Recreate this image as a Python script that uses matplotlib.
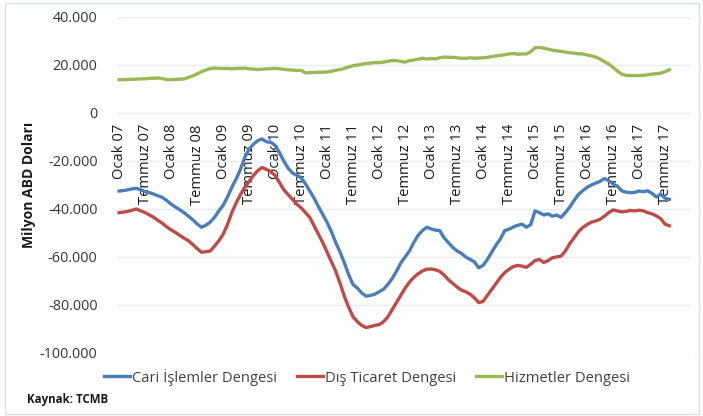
import matplotlib
matplotlib.use("Agg")
import matplotlib.pyplot as plt
from matplotlib.ticker import FuncFormatter, FixedLocator
from matplotlib.patches import Rectangle

# Monthly data, Jan 2007 .. Aug 2017 (million USD, 12-month rolling)
cari = [-32.5, -32.3, -32.0, -31.6, -31.4, -32.0, -32.8, -33.2, -33.8, -34.5, -35.2, -36.5,
        -38.0, -39.2, -40.3, -41.6, -43.0, -44.5, -46.2, -47.6, -46.8, -45.5, -43.5, -40.8,
        -38.5, -35.0, -31.0, -27.5, -23.5, -18.5, -15.0, -13.0, -11.5, -10.8, -12.0, -12.2,
        -13.5, -16.5, -20.0, -23.0, -25.0, -26.0, -27.0, -29.5, -32.5, -35.5, -39.0, -42.3,
        -45.6, -49.5, -54.0, -58.0, -62.5, -67.5, -71.5, -73.0, -75.0, -76.3, -76.0, -75.5,
        -74.5, -73.5, -71.5, -69.0, -66.0, -62.5, -60.0, -57.5, -54.0, -51.0, -49.0, -47.6,
        -48.3, -48.8, -49.0, -52.0, -54.0, -56.0, -57.5, -58.5, -60.0, -61.0, -62.0, -64.5,
        -63.5, -61.0, -58.0, -55.0, -52.5, -49.0, -48.4, -47.5, -46.8, -46.3, -47.6, -46.5,
        -40.8, -41.5, -42.5, -42.0, -43.0, -42.5, -43.5, -41.5, -39.2, -36.5, -34.0, -32.4,
        -31.0, -30.0, -29.2, -28.5, -27.3, -28.2, -29.6, -30.5, -32.4, -33.0, -33.2, -33.1,
        -32.5, -32.8, -32.4, -33.5, -35.0, -33.8, -35.5, -36.0]
dis_ticaret = [-41.5, -41.3, -41.0, -40.5, -40.0, -40.8, -41.5, -42.5, -43.5, -44.8, -46.0, -47.5,
               -48.7, -49.8, -51.0, -52.2, -53.2, -54.8, -56.5, -58.0, -57.8, -57.5, -55.5, -53.3,
               -50.5, -46.5, -41.5, -37.5, -34.0, -31.0, -28.5, -26.0, -24.0, -22.7, -23.5, -24.5,
               -26.0, -29.0, -32.0, -34.0, -36.0, -38.0, -39.5, -41.5, -43.5, -47.0, -50.5, -54.0,
               -58.0, -62.0, -66.0, -71.0, -76.5, -81.0, -85.0, -87.0, -88.5, -89.4, -89.0, -88.5,
               -88.2, -87.0, -85.0, -82.0, -79.0, -76.0, -73.0, -70.5, -68.5, -67.0, -65.8, -65.1,
               -65.0, -65.3, -66.0, -67.5, -69.5, -71.0, -72.5, -73.8, -74.5, -75.5, -77.0, -79.0,
               -78.5, -76.0, -73.5, -71.0, -68.5, -66.5, -65.1, -64.0, -63.5, -63.8, -64.3, -63.0,
               -61.5, -61.0, -62.3, -61.5, -60.3, -60.0, -59.6, -57.5, -54.5, -52.0, -49.5, -47.7,
               -46.5, -45.5, -45.0, -44.3, -43.0, -41.5, -40.4, -40.8, -41.2, -41.0, -40.6, -40.8,
               -40.5, -40.8, -41.5, -42.0, -42.9, -44.0, -46.3, -47.0]
hizmetler = [13.9, 13.9, 14.0, 14.0, 14.1, 14.2, 14.3, 14.4, 14.5, 14.6, 14.3, 13.9,
             13.9, 14.0, 14.1, 14.2, 14.8, 15.5, 16.3, 17.2, 17.9, 18.5, 18.7, 18.6,
             18.5, 18.6, 18.4, 18.6, 18.6, 18.7, 18.4, 18.3, 18.1, 18.3, 18.4, 18.5,
             18.6, 18.4, 18.2, 18.0, 17.9, 17.7, 17.8, 16.7, 16.8, 16.9, 17.0, 17.0,
             17.1, 17.4, 17.8, 18.1, 18.6, 19.2, 19.7, 20.0, 20.3, 20.6, 20.8, 21.0,
             21.0, 21.2, 21.5, 21.9, 21.8, 21.5, 21.2, 21.8, 22.1, 22.4, 22.8, 22.5,
             22.7, 22.5, 23.0, 23.3, 23.2, 23.2, 23.0, 22.8, 22.8, 23.0, 22.8, 22.9,
             23.0, 23.2, 23.5, 23.8, 24.0, 24.3, 24.6, 24.8, 24.5, 24.6, 24.6, 25.5,
             27.2, 27.3, 27.0, 26.6, 26.2, 25.9, 25.7, 25.4, 25.1, 24.9, 24.7, 24.6,
             24.2, 23.8, 23.3, 22.5, 21.4, 20.4, 19.0, 17.5, 16.2, 15.7, 15.6, 15.6,
             15.6, 15.7, 15.9, 16.2, 16.4, 16.6, 17.2, 18.0]

tick_labels = ["Ocak 07", "Temmuz 07", "Ocak 08", "Temmuz 08", "Ocak 09", "Temmuz 09",
               "Ocak 10", "Temmuz 10", "Ocak 11", "Temmuz 11", "Ocak 12", "Temmuz 12",
               "Ocak 13", "Temmuz 13", "Ocak 14", "Temmuz 14", "Ocak 15", "Temmuz 15",
               "Ocak 16", "Temmuz 16", "Ocak 17", "Temmuz 17"]
series_names = ["Cari İşlemler Dengesi", "Dış Ticaret Dengesi", "Hizmetler Dengesi"]
colors = ["#4a7ebb", "#be4b48", "#98b954"]

plt.rcParams['font.family'] = ['Open Sans', 'DejaVu Sans']

fig = plt.figure(figsize=(7.03, 4.16), dpi=100)
ax = fig.add_axes([117/703, 1 - 353/416, (691 - 117)/703, (353 - 17)/416])

for s in ax.spines.values():
    s.set_visible(False)
ax.spines['bottom'].set_position(('data', 0))

months = list(range(len(cari)))
for vals, name, c in zip([cari, dis_ticaret, hizmetler], series_names, colors):
    ax.plot(months, [v * 1000 for v in vals], color=c, lw=2.4, label=name,
            solid_joinstyle='round', zorder=3)

ax.set_xlim(-0.5, 132)
ax.set_ylim(-100000, 40000)
ax.yaxis.set_major_locator(FixedLocator(list(range(-100000, 40001, 20000))))
ax.yaxis.set_major_formatter(FuncFormatter(lambda v, p: f"{v:,.0f}".replace(",", ".")))
ax.set_xticks(list(range(0, 6 * len(tick_labels), 6)))
ax.set_xticklabels(tick_labels)

ax.grid(axis='y', color='#e9eef6', lw=1)
ax.set_axisbelow(True)
ax.tick_params(axis='x', length=0, pad=8, labelsize=10.6, colors='#1a1a1a', labelrotation=90)
ax.tick_params(axis='y', length=0, pad=14, labelsize=10.4, colors='#333333')
for lab in ax.get_xticklabels():
    lab.set_va('top')
    lab.set_ha('center')

ax.set_ylabel("Milyon ABD Doları", fontsize=10, fontweight='bold', labelpad=3, color='#1a1a1a')

fig.legend(loc='center', bbox_to_anchor=(367/703, 1 - 377/416), ncol=3, frameon=False,
           fontsize=10.6, handlelength=1.8, handletextpad=0.15, columnspacing=1.3,
           labelcolor='#404040')

fig.text(27/703, 1 - 399/416, "Kaynak: TCMB", fontsize=8.3, fontweight='bold',
         va='center', ha='left', color='#1a1a1a')

fig.patches.append(Rectangle((5/703, 2/416), 694/703, 411/416, transform=fig.transFigure,
                             fill=False, edgecolor='#d6e0ef', lw=1))

fig.savefig("out.png", dpi=100)
